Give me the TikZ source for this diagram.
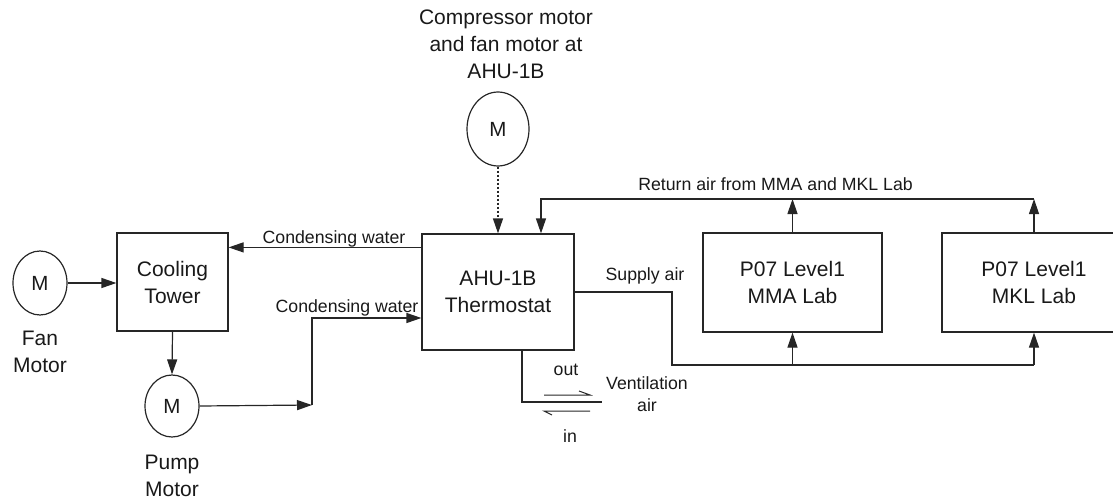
\documentclass[tikz,border=0pt]{standalone}
\usepackage{fontspec}
\setmainfont{Liberation Sans}
\usetikzlibrary{arrows.meta,shapes.geometric,calc}
\begin{document}
\begin{tikzpicture}[x=1pt,y=-1pt,
  line width=1.2pt, draw=black!85,
  big/.style={font=\fontsize{21}{27}\selectfont, align=center, text=black!90},
  small/.style={font=\fontsize{17.7}{22}\selectfont, align=center, text=black!90},
  boxnode/.style={draw, rectangle, inner sep=0pt, big},
  motor/.style={draw, ellipse, inner sep=0pt, font=\fontsize{20.5}{24}\selectfont, text=black!90},
  flow/.style={-{Triangle[length=15pt,width=10pt]}},
  barb/.style={line width=1pt}
]
\useasboundingbox (0,0) rectangle (1113,500);
\clip (0,0) rectangle (1113,500);

% motors
\node[motor, minimum width=54pt, minimum height=64pt] (fanM) at (40,283) {M};
\node[motor, minimum width=54pt, minimum height=62pt] (pumpM) at (172,406) {M};
\node[motor, minimum width=62pt, minimum height=74pt] (topM) at (498,129) {M};

% motor labels
\node[big] (fanL) at (40,352) {Fan\\Motor};
\node[big] (pumpL) at (172,476) {Pump\\Motor};
\node[big] (topL) at (506,44) {Compressor motor\\and fan motor at\\AHU-1B};

% boxes
\node[boxnode, minimum width=111pt, minimum height=98pt] (ct) at (172.5,282) {Cooling\\Tower};
\node[boxnode, minimum width=152pt, minimum height=116pt] (ahu) at (498,292) {AHU-1B\\Thermostat};
\node[boxnode, minimum width=179pt, minimum height=99pt] (mma) at (792.5,282.5) {P07 Level1\\MMA Lab};
\node[boxnode, minimum width=184pt, minimum height=99pt] (mkl) at (1034,282.5) {P07 Level1\\MKL Lab};

% fan motor -> cooling tower
\draw[flow] (fanM.east) -- (fanM.east -| ct.west);
% cooling tower -> pump motor
\draw[flow] (ct.south) -- (pumpM.north);

% condensing water (return to tower)
\coordinate (cwA) at ($(ahu.north west)+(0,14)$);
\draw[flow] (cwA) -- (cwA -| ct.east);
\node[small, anchor=base] (cwL1) at (334,243) {Condensing water};

% pump -> AHU
\coordinate (j1) at (312,405);
\coordinate (cwB) at ($(ahu.west)+(0,26)$);
\draw[flow] (pumpM.east) -- (j1);
\draw[flow] (j1) |- (cwB);
\node[small, anchor=base] (cwL2) at (347,312) {Condensing water};

% compressor motor -> AHU (dashed)
\draw[flow, dash pattern=on 2.5pt off 1.5pt] (topM.south) -- (topM.south |- ahu.north);

% return air
\coordinate (rtop) at (1034,199);
\coordinate (rin) at ($(ahu.north)+(43,0)$);
\draw[flow] (mkl.north) -- (rtop);
\draw[flow] (mma.north) -- (mma.north |- rtop);
\draw[flow] (rtop) -| (rin);
\node[small, anchor=base] (retL) at (775.5,190) {Return air from MMA and MKL Lab};

% supply air
\coordinate (s1) at (672,365);
\draw (ahu.east) -| (s1) -- (s1 -| mkl.south);
\draw[flow] (s1 -| mma.south) -- (mma.south);
\draw[flow] (s1 -| mkl.south) -- (mkl.south);
\node[small, anchor=base] (supL) at (645,280) {Supply air};

% ventilation
\coordinate (v0) at ($(ahu.south)+(24,0)$);
\coordinate (v1) at (602,402);
\draw (v0) |- (v1);
\coordinate (h1a) at (544,395);
\coordinate (h1b) at (590,395);
\coordinate (h2a) at (590,411);
\coordinate (h2b) at (544,411);
\draw[barb] (h1a) -- (h1b) -- ++(-11,-4);
\draw[barb] (h2a) -- (h2b) -- ++(8,4);
\node[small, anchor=base] (outL) at (566,375) {out};
\node[small, anchor=base] (inL) at (570,442) {in};
\node[small] (ventL) at (647,394) {Ventilation\\air};
\end{tikzpicture}
\end{document}
